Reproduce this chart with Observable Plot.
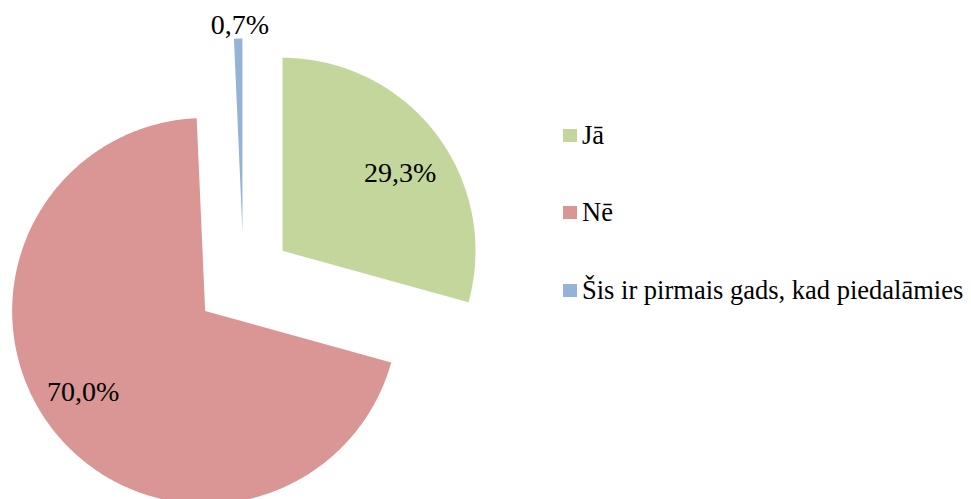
<!DOCTYPE html>
<html>
<head>
<meta charset="utf-8">
<script src="https://cdn.jsdelivr.net/npm/d3@7"></script>
<script src="https://cdn.jsdelivr.net/npm/@observablehq/plot@0.6"></script>
<style>
  body { margin: 0; background: #fff; }
  #wrap { position: relative; width: 971px; height: 499px; overflow: hidden; }
  #legend { position: absolute; left: 0; top: 0; font-family: "Liberation Serif", "Times New Roman", serif; font-size: 26.5px; line-height: 26.5px; color: #000; z-index: 2; }
  .sw { position: absolute; width: 14px; height: 13px; }
  .lt { position: absolute; white-space: nowrap; }
</style>
</head>
<body>
<div id="wrap"><div id="legend"></div></div>
<script>
const categories = ["Jā", "Nē", "Šis ir pirmais gads, kad piedalāmies"];
const values = [29.3, 70.0, 0.7];
const valueLabels = ["29,3%", "70,0%", "0,7%"];
const colors = ["#C3D69B", "#D99694", "#95B3D7"];

// layout (pixels)
const W = 971, H = 499, cx = 243, cy = 280, R = 193;
const explode = 49 / R;

const arcs = d3.pie().sort(null).startAngle(0).endAngle(2 * Math.PI)(values);

const pts = [];
const lbls = [];
arcs.forEach((a, i) => {
  const mid = (a.startAngle + a.endAngle) / 2;
  const ox = explode * Math.sin(mid), oy = explode * Math.cos(mid);
  pts.push({cat: categories[i], x: ox, y: oy});
  const n = Math.max(4, Math.ceil((a.endAngle - a.startAngle) / 0.01));
  for (let k = 0; k <= n; k++) {
    const t = a.startAngle + (a.endAngle - a.startAngle) * k / n;
    pts.push({cat: categories[i], x: ox + Math.sin(t), y: oy + Math.cos(t)});
  }
  pts.push({cat: categories[i], x: ox, y: oy});
  const inside = values[i] > 5;
  const lr = inside ? 0.745 : 1.07;
  const la = inside ? mid + 0.075 : mid;
  lbls.push({text: valueLabels[i], x: ox + lr * Math.sin(la), y: oy + lr * Math.cos(la), dx: inside ? -3 : 2});
});

const chart = Plot.plot({
  width: W, height: H,
  margin: 0,
  x: {domain: [-cx / R, (W - cx) / R], range: [0, W], axis: null},
  y: {domain: [-(H - cy) / R, cy / R], range: [H, 0], axis: null},
  color: {domain: categories, range: colors},
  style: {fontFamily: "Liberation Serif, Times New Roman, serif", background: "white"},
  marks: [
    Plot.line(pts, {x: "x", y: "y", z: "cat", fill: "cat", stroke: "none", curve: "linear"}),
    Plot.text(lbls.filter(d => d.dx < 0), {x: "x", y: "y", text: "text", fontSize: 28, fill: "#000", textAnchor: "middle", dx: -3}),
    Plot.text(lbls.filter(d => d.dx > 0), {x: "x", y: "y", text: "text", fontSize: 28, fill: "#000", textAnchor: "middle", dx: 2})
  ]
});
document.getElementById("wrap").prepend(chart);
chart.style.position = "absolute"; chart.style.left = "0"; chart.style.top = "0";

const legend = document.getElementById("legend");
const baselines = [144, 221, 299];
categories.forEach((c, i) => {
  const sw = document.createElement("div");
  sw.className = "sw";
  sw.style.left = "563px";
  sw.style.top = (baselines[i] - 15) + "px";
  sw.style.background = colors[i];
  legend.appendChild(sw);
  const t = document.createElement("div");
  t.className = "lt";
  t.style.left = "582px";
  t.style.top = (baselines[i] - 22) + "px";
  t.textContent = c;
  legend.appendChild(t);
});
</script>
</body>
</html>
